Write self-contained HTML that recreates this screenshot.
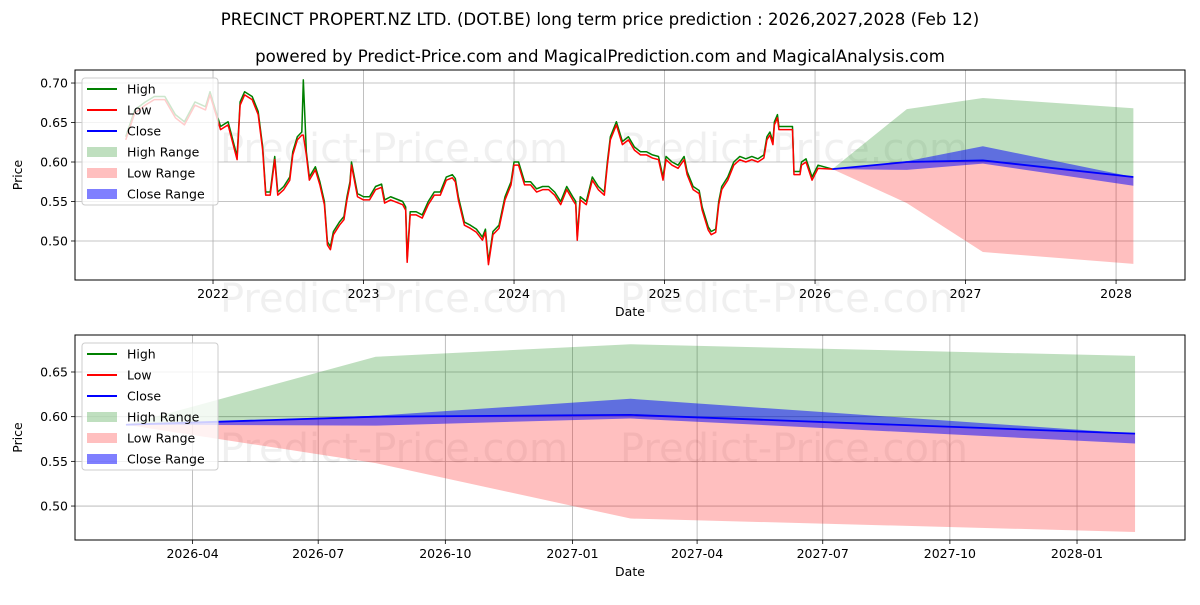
<!DOCTYPE html>
<html><head><meta charset="utf-8">
<style>
body{margin:0;background:#fff;font-family:"Liberation Sans","DejaVu Sans",sans-serif;}
svg text{font-family:"DejaVu Sans","Liberation Sans",sans-serif;}
</style></head>
<body>
<svg id="chart" width="1200" height="600" xmlns="http://www.w3.org/2000/svg">
<rect width="1200" height="600" fill="#fff"/>
<text x="600" y="25" text-anchor="middle" font-size="16.6">PRECINCT PROPERT.NZ LTD. (DOT.BE) long term price prediction : 2026,2027,2028 (Feb 12)</text>
<text x="600" y="62" text-anchor="middle" font-size="16.6">powered by Predict-Price.com and MagicalPrediction.com and MagicalAnalysis.com</text>
</svg>
<script>
const histDates=[2021.42,2021.48,2021.55,2021.61,2021.68,2021.75,2021.81,2021.88,2021.95,2021.98,2022.05,2022.10,2022.16,2022.18,2022.21,2022.26,2022.30,2022.33,2022.35,2022.38,2022.41,2022.43,2022.47,2022.51,2022.53,2022.56,2022.59,2022.60,2022.62,2022.64,2022.68,2022.71,2022.74,2022.76,2022.78,2022.80,2022.84,2022.87,2022.89,2022.91,2022.92,2022.96,2023.00,2023.04,2023.08,2023.12,2023.14,2023.18,2023.22,2023.26,2023.28,2023.29,2023.31,2023.35,2023.39,2023.43,2023.47,2023.51,2023.55,2023.59,2023.61,2023.63,2023.67,2023.71,2023.75,2023.79,2023.81,2023.83,2023.86,2023.90,2023.94,2023.98,2024.00,2024.03,2024.07,2024.11,2024.15,2024.19,2024.23,2024.27,2024.31,2024.35,2024.39,2024.41,2024.42,2024.44,2024.48,2024.52,2024.56,2024.60,2024.62,2024.64,2024.68,2024.72,2024.76,2024.80,2024.84,2024.88,2024.92,2024.96,2024.99,2025.01,2025.05,2025.09,2025.13,2025.15,2025.19,2025.23,2025.25,2025.29,2025.31,2025.34,2025.36,2025.38,2025.42,2025.46,2025.50,2025.54,2025.58,2025.62,2025.66,2025.68,2025.70,2025.72,2025.73,2025.75,2025.76,2025.85,2025.86,2025.90,2025.91,2025.94,2025.98,2026.02,2026.115];
const lowPrices=[0.628,0.662,0.672,0.679,0.679,0.656,0.647,0.672,0.666,0.685,0.641,0.647,0.603,0.672,0.685,0.679,0.660,0.615,0.558,0.558,0.603,0.558,0.565,0.577,0.609,0.628,0.634,0.634,0.609,0.577,0.590,0.571,0.546,0.495,0.489,0.508,0.520,0.527,0.552,0.571,0.596,0.556,0.552,0.552,0.565,0.568,0.548,0.552,0.549,0.546,0.539,0.473,0.533,0.533,0.529,0.546,0.558,0.558,0.577,0.580,0.575,0.552,0.520,0.516,0.511,0.501,0.511,0.470,0.508,0.516,0.552,0.571,0.596,0.596,0.571,0.571,0.562,0.565,0.565,0.558,0.546,0.565,0.552,0.546,0.501,0.552,0.546,0.577,0.565,0.558,0.596,0.628,0.647,0.622,0.628,0.615,0.609,0.609,0.605,0.603,0.577,0.603,0.596,0.592,0.603,0.584,0.565,0.560,0.539,0.514,0.508,0.511,0.546,0.565,0.577,0.596,0.603,0.600,0.603,0.600,0.605,0.628,0.634,0.622,0.647,0.656,0.641,0.641,0.584,0.584,0.596,0.600,0.577,0.592,0.591];
const highPrices=[0.632,0.666,0.676,0.683,0.683,0.660,0.651,0.676,0.670,0.689,0.645,0.651,0.607,0.676,0.689,0.683,0.664,0.619,0.562,0.562,0.607,0.562,0.569,0.581,0.613,0.632,0.638,0.704,0.613,0.581,0.594,0.575,0.550,0.499,0.493,0.512,0.524,0.531,0.556,0.575,0.600,0.560,0.556,0.556,0.569,0.572,0.552,0.556,0.553,0.550,0.543,0.477,0.537,0.537,0.533,0.550,0.562,0.562,0.581,0.584,0.579,0.556,0.524,0.520,0.515,0.505,0.515,0.474,0.512,0.520,0.556,0.575,0.600,0.600,0.575,0.575,0.566,0.569,0.569,0.562,0.550,0.569,0.556,0.550,0.505,0.556,0.550,0.581,0.569,0.562,0.600,0.632,0.651,0.626,0.632,0.619,0.613,0.613,0.609,0.607,0.581,0.607,0.600,0.596,0.607,0.588,0.569,0.564,0.543,0.518,0.512,0.515,0.550,0.569,0.581,0.600,0.607,0.604,0.607,0.604,0.609,0.632,0.638,0.626,0.651,0.660,0.645,0.645,0.588,0.588,0.600,0.604,0.581,0.596,0.591];
const predDates=[2026.115,2026.61,2027.115,2028.115];
const highRangeTop=[0.591,0.667,0.681,0.668];
const lowRangeBottom=[0.591,0.548,0.486,0.471];
const closeRangeTop=[0.591,0.601,0.620,0.581];
const closeRangeBottom=[0.591,0.590,0.598,0.570];
const closeValues=[0.591,0.600,0.602,0.581];
const topYTicks=[0.50,0.55,0.60,0.65,0.70];
const topXTicks=[2022,2023,2024,2025,2026,2027,2028];
const botYTicks=[0.50,0.55,0.60,0.65];
const botXTickLabels=["2026-04","2026-07","2026-10","2027-01","2027-04","2027-07","2027-10","2028-01"];
const botXTickDates=[2026.247,2026.496,2026.748,2027.0,2027.247,2027.496,2027.748,2028.0];

const NS="http://www.w3.org/2000/svg";
const svg=document.getElementById('chart');
function mk(tag,attrs,parent){const e=document.createElementNS(NS,tag);for(const k in attrs)e.setAttribute(k,attrs[k]);(parent||svg).appendChild(e);return e;}

function panel(cfg){
  const {L,R,T,B,x0,x1,y0,y1,name}=cfg;
  const g=mk('g',{});
  
  
  const X=v=>L+(v-x0)/(x1-x0)*(R-L);
  const Y=v=>B-(v-y0)/(y1-y0)*(B-T);
  cfg.xt.forEach((d,i)=>{
    const x=X(d);
    const gl=mk('line',{x1:x,x2:x,y1:T,y2:B,stroke:'#b0b0b0','stroke-width':0.8},g);
    
    
    mk('line',{x1:x,x2:x,y1:B,y2:B+4,stroke:'#000','stroke-width':0.8},g);
    const t=mk('text',{x:x,y:B+18,'text-anchor':'middle','font-size':12.5},g);
    t.textContent=cfg.xl[i];
    
    
  });
  cfg.yt.forEach(v=>{
    const y=Y(v);
    const gl=mk('line',{x1:L,x2:R,y1:y,y2:y,stroke:'#b0b0b0','stroke-width':0.8},g);
    
    
    mk('line',{x1:L-4,x2:L,y1:y,y2:y,stroke:'#000','stroke-width':0.8},g);
    const t=mk('text',{x:L-7,y:y+4.5,'text-anchor':'end','font-size':12.5},g);
    t.textContent=v.toFixed(2);
    
    
  });
  cfg.wm.forEach(p=>{
    const t=mk('text',{x:p[0],y:p[1],'font-size':40,fill:'rgba(0,0,0,0.06)'},g);
    t.textContent='Predict-Price.com';
    
    
  });
  const clip='clip-'+name;
  const cp=mk('clipPath',{id:clip},g);mk('rect',{x:L,y:T,width:R-L,height:B-T},cp);
  const pg=mk('g',{'clip-path':'url(#'+clip+')'},g);
  function band(top,bot,fill,nm){
    let d='';
    predDates.forEach((dt,i)=>{d+=(i?'L':'M')+X(dt)+','+Y(top[i]);});
    for(let i=predDates.length-1;i>=0;i--)d+='L'+X(predDates[i])+','+Y(bot[i]);
    const p=mk('path',{d:d+'Z',fill:fill},pg);
    
    
  }
  function line(xs,ys,col,w,nm){
    const pts=xs.map((d,i)=>X(d)+','+Y(ys[i])).join(' ');
    const p=mk('polyline',{points:pts,fill:'none',stroke:col,'stroke-width':w,'stroke-linejoin':'round'},pg);
    
    
  }
  band(highRangeTop,closeValues,'rgba(0,128,0,0.25)','high-range-band');
  band(closeValues,lowRangeBottom,'rgba(255,0,0,0.25)','low-range-band');
  band(closeRangeTop,closeRangeBottom,'rgba(0,0,255,0.5)','close-range-band');
  if(cfg.hist){
    line(histDates,highPrices,'#008000',1.5,'high-line');
    line(histDates,lowPrices,'#ff0000',1.5,'low-line');
  }
  line(predDates,closeValues,'#0000ff',1.8,'close-line');
  const fr=mk('rect',{x:L,y:T,width:R-L,height:B-T,fill:'none',stroke:'#000','stroke-width':1},g);
  
  
  const xlab=mk('text',{x:(L+R)/2,y:B+36,'text-anchor':'middle','font-size':12.5},g);
  xlab.textContent='Date';
  
  
  const yl=mk('text',{x:0,y:0,'text-anchor':'middle','font-size':12.5,transform:'translate('+(L-53)+','+((T+B)/2)+') rotate(-90)'},g);
  yl.textContent='Price';
  
  
  const lg=mk('g',{},g);
  
  
  const lx=L+7,ly=T+8;
  mk('rect',{x:lx,y:ly,width:136,height:127,rx:3,fill:'rgba(255,255,255,0.8)',stroke:'#ccc','stroke-width':1},lg);
  const items=[['High','line','#008000'],['Low','line','#ff0000'],['Close','line','#0000ff'],['High Range','box','rgba(0,128,0,0.25)'],['Low Range','box','rgba(255,0,0,0.25)'],['Close Range','box','rgba(0,0,255,0.5)']];
  items.forEach((it,i)=>{
    const cy=ly+11+i*21;
    const e=mk('g',{},lg);
    
    
    if(it[1]==='line')mk('line',{x1:lx+5,x2:lx+35,y1:cy,y2:cy,stroke:it[2],'stroke-width':2},e);
    else mk('rect',{x:lx+5,y:cy-5,width:30,height:10,fill:it[2]},e);
    const t=mk('text',{x:lx+45,y:cy+4.5,'font-size':12.5},e);
    t.textContent=it[0];
  });
}
panel({name:'top-panel',hist:true,L:75,R:1185,T:70,B:280,x0:2021.083,x1:2028.458,y0:0.4506,y1:0.7165,
  xt:topXTicks,xl:topXTicks.map(String),yt:topYTicks,wm:[[220,162],[620,162],[220,312],[620,312]]});
panel({name:'bottom-panel',hist:false,L:75,R:1185,T:335,B:540,x0:2026.014,x1:2028.214,y0:0.462,y1:0.6914,
  xt:botXTickDates,xl:botXTickLabels,yt:botYTicks,wm:[[220,462],[620,462]]});
</script>
</body></html>
